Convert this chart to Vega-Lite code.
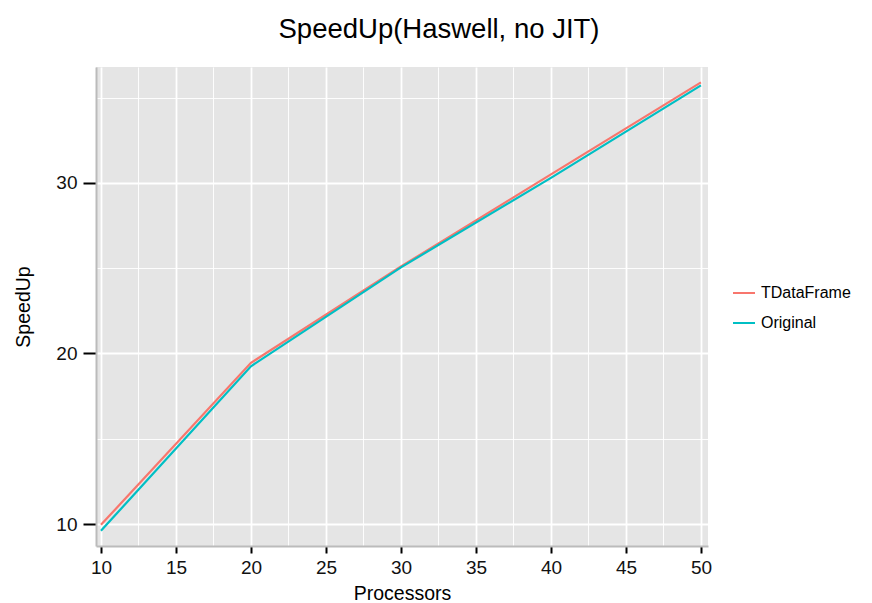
{
  "$schema": "https://vega.github.io/schema/vega-lite/v6.json",
  "autosize": "none",
  "width": 612,
  "height": 479,
  "padding": {"left": 96, "top": 67, "right": 164, "bottom": 57},
  "background": "white",
  "config": {
    "font": "Liberation Sans",
    "view": {"fill": "#E5E5E5", "stroke": null}
  },
  "title": {
    "text": "SpeedUp(Haswell, no JIT)",
    "fontSize": 27.5,
    "fontWeight": "normal",
    "color": "black",
    "anchor": "middle",
    "dx": 37,
    "offset": 24
  },
  "data": {
    "values": [
      {"Processors": 10, "SpeedUp": 9.95, "Version": "TDataFrame"},
      {"Processors": 20, "SpeedUp": 19.45, "Version": "TDataFrame"},
      {"Processors": 30, "SpeedUp": 25.1, "Version": "TDataFrame"},
      {"Processors": 40, "SpeedUp": 30.5, "Version": "TDataFrame"},
      {"Processors": 50, "SpeedUp": 35.9, "Version": "TDataFrame"},
      {"Processors": 10, "SpeedUp": 9.6, "Version": "Original"},
      {"Processors": 20, "SpeedUp": 19.25, "Version": "Original"},
      {"Processors": 30, "SpeedUp": 25.05, "Version": "Original"},
      {"Processors": 40, "SpeedUp": 30.3, "Version": "Original"},
      {"Processors": 50, "SpeedUp": 35.72, "Version": "Original"}
    ]
  },
  "mark": {"type": "line", "strokeWidth": 2.2, "clip": true},
  "encoding": {
    "x": {
      "field": "Processors",
      "type": "quantitative",
      "scale": {"domain": [9.67, 50.47], "nice": false, "zero": false},
      "axis": {
        "title": "Processors",
        "titleFontSize": 19.5,
        "titleFontWeight": "normal",
        "titleColor": "black",
        "titlePadding": 7,
        "values": [10, 12.5, 15, 17.5, 20, 22.5, 25, 27.5, 30, 32.5, 35, 37.5, 40, 42.5, 45, 47.5, 50],
        "labelExpr": "datum.value % 5 == 0 ? datum.label : ''",
        "labelFontSize": 19,
        "labelColor": "#111111",
        "labelPadding": 5,
        "tickColor": "black",
        "tickSize": 7,
        "tickWidth": 2,
        "tickOpacity": {"condition": {"test": "datum.value % 5 == 0", "value": 1}, "value": 0},
        "domainColor": "#BBBBBB",
        "domainWidth": 2,
        "grid": true,
        "gridColor": "white",
        "gridOpacity": 1,
        "gridWidth": {"condition": {"test": "datum.value % 5 == 0", "value": 1.8}, "value": 0.9}
      }
    },
    "y": {
      "field": "SpeedUp",
      "type": "quantitative",
      "scale": {"domain": [8.71, 36.8], "nice": false, "zero": false},
      "axis": {
        "title": "SpeedUp",
        "titleFontSize": 19.5,
        "titleFontWeight": "normal",
        "titleColor": "black",
        "titlePadding": 22,
        "values": [10, 15, 20, 25, 30, 35],
        "labelExpr": "datum.value % 10 == 0 ? datum.label : ''",
        "labelFontSize": 19,
        "labelColor": "#111111",
        "labelPadding": 6,
        "tickColor": "black",
        "tickSize": 13,
        "tickWidth": 2,
        "tickOpacity": {"condition": {"test": "datum.value % 10 == 0", "value": 1}, "value": 0},
        "domainColor": "#BBBBBB",
        "domainWidth": 2,
        "grid": true,
        "gridColor": "white",
        "gridOpacity": 1,
        "gridWidth": {"condition": {"test": "datum.value % 10 == 0", "value": 1.8}, "value": 0.9}
      }
    },
    "color": {
      "field": "Version",
      "type": "nominal",
      "scale": {"domain": ["TDataFrame", "Original"], "range": ["#F8766D", "#00BFC4"]},
      "legend": {
        "title": null,
        "orient": "none",
        "legendX": 636,
        "legendY": 214,
        "symbolType": "stroke",
        "symbolStrokeWidth": 2,
        "symbolSize": 484,
        "labelFontSize": 16,
        "labelColor": "black",
        "labelOffset": 5,
        "rowPadding": 10
      }
    }
  }
}
